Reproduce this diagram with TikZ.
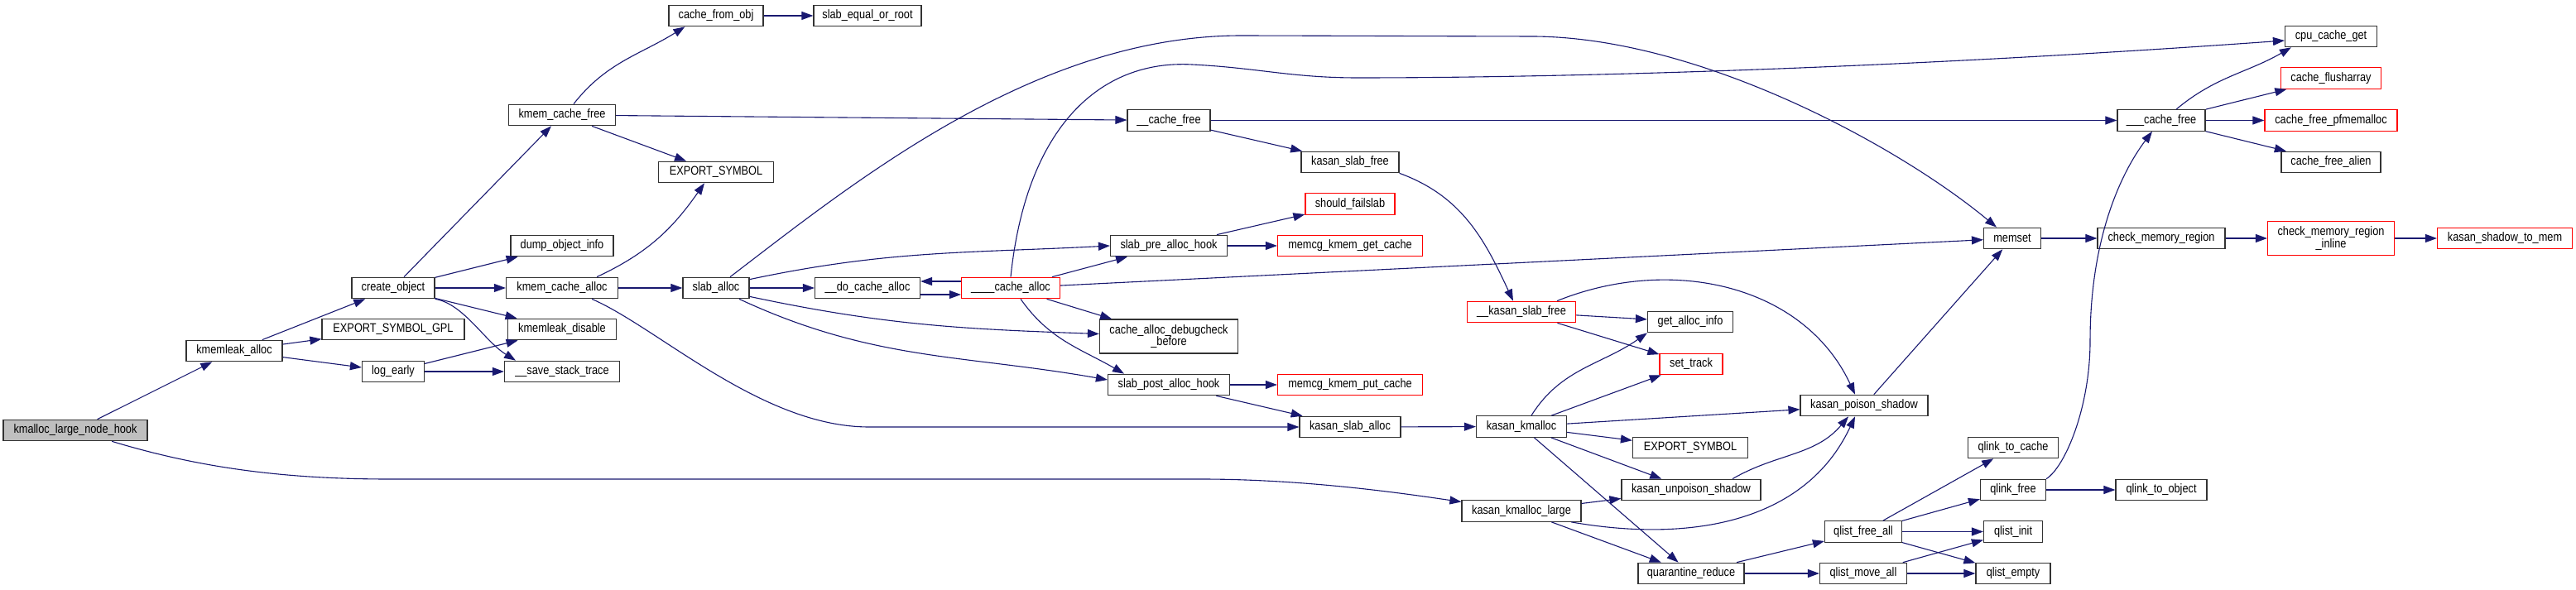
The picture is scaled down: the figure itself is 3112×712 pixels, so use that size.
\documentclass[tikz,border=0pt]{standalone}
\usepackage{fontspec}
\setmainfont{Liberation Sans}[FakeStretch=0.85]
\usetikzlibrary{arrows.meta}
\definecolor{callblue}{HTML}{191970}
\definecolor{rootgray}{HTML}{BFBFBF}

\begin{document}
\begin{tikzpicture}[x=1pt,y=1pt,
  fn/.style={draw=black!80,line width=1.2pt,fill=white,inner sep=0pt,minimum height=25.5pt,align=center},
  fnred/.style={fn,draw=red},
  fnroot/.style={fn,fill=rootgray},
  call/.style={draw=callblue,line width=1.1pt,-{Triangle[length=14pt,width=10pt]}},
  font=\fontsize{15}{14.5}\selectfont]
  \useasboundingbox (0,0) rectangle (3112,712);

  % kmemleak side
  \node[fnroot,minimum width=174pt] (hook) at (91,192) {kmalloc\_large\_node\_hook};
  \node[fn,minimum width=116pt] (kmlalloc) at (283,288) {kmemleak\_alloc};
  \node[fn,minimum width=100pt] (createobj) at (475,364) {create\_object};
  \node[fn,minimum width=172pt] (exportgpl) at (475,314) {EXPORT\_SYMBOL\_GPL};
  \node[fn,minimum width=75pt] (logearly) at (475,263) {log\_early};
  \node[fn,minimum width=114pt] (cachefromobj) at (865,693) {cache\_from\_obj};
  \node[fn,minimum width=130pt] (slabeq) at (1048,693) {slab\_equal\_or\_root};
  \node[fn,minimum width=129pt] (kcfree) at (679,573) {kmem\_cache\_free};
  \node[fn,minimum width=139pt] (exptop) at (865,504) {EXPORT\_SYMBOL};
  \node[fn,minimum width=124pt] (dumpinfo) at (679,415) {dump\_object\_info};
  \node[fn,minimum width=135pt] (kcalloc) at (679,364) {kmem\_cache\_alloc};
  \node[fn,minimum width=131pt] (kmldisable) at (679,314) {kmemleak\_disable};
  \node[fn,minimum width=139pt] (savetrace) at (679,263) {\_\_save\_stack\_trace};

  % slab
  \node[fn,minimum width=80pt] (slaballoc) at (865,364) {slab\_alloc};
  \node[fn,minimum width=127pt] (docachealloc) at (1048,364) {\_\_do\_cache\_alloc};
  \node[fnred,minimum width=119pt] (cachealloc) at (1221,364) {\_\_\_\_cache\_alloc};
  \node[fn,minimum width=100pt] (cachefree) at (1412,566.5) {\_\_cache\_free};
  \node[fn,minimum width=141pt] (prehook) at (1412,415) {slab\_pre\_alloc\_hook};
  \node[fn,minimum width=167pt,minimum height=41pt] (debugcheck) at (1412,305.5) {cache\_alloc\_debugcheck\\\_before};
  \node[fn,minimum width=147pt] (posthook) at (1412,247) {slab\_post\_alloc\_hook};
  \node[fn,minimum width=118pt] (kslabfree) at (1631,516) {kasan\_slab\_free};
  \node[fnred,minimum width=108pt] (failslab) at (1631,465.5) {should\_failslab};
  \node[fnred,minimum width=175pt] (getcache) at (1631,415) {memcg\_kmem\_get\_cache};
  \node[fnred,minimum width=175pt] (putcache) at (1631,247) {memcg\_kmem\_put\_cache};
  \node[fn,minimum width=122pt] (kslaballoc) at (1631,196) {kasan\_slab\_alloc};

  % kasan
  \node[fnred,minimum width=131pt] (kslabfreeint) at (1838,335) {\_\_kasan\_slab\_free};
  \node[fn,minimum width=109pt] (kkmalloc) at (1838,196.5) {kasan\_kmalloc};
  \node[fn,minimum width=144pt] (kkmlarge) at (1838,94.5) {kasan\_kmalloc\_large};
  \node[fn,minimum width=103pt] (getallocinfo) at (2042,323) {get\_alloc\_info};
  \node[fnred,minimum width=76pt] (settrack) at (2043,272) {set\_track};
  \node[fn,minimum width=139pt] (expbot) at (2042,171) {EXPORT\_SYMBOL};
  \node[fn,minimum width=168pt] (unpoison) at (2043,120) {kasan\_unpoison\_shadow};
  \node[fn,minimum width=128pt] (qreduce) at (2043,19) {quarantine\_reduce};
  \node[fn,minimum width=154pt] (poison) at (2252,222) {kasan\_poison\_shadow};
  \node[fn,minimum width=93pt] (qfreeall) at (2251,69.5) {qlist\_free\_all};
  \node[fn,minimum width=105pt] (qmoveall) at (2251,19) {qlist\_move\_all};
  \node[fn,minimum width=69pt] (memset) at (2431,424) {memset};
  \node[fn,minimum width=109pt] (qtocache) at (2432,171) {qlink\_to\_cache};
  \node[fn,minimum width=79pt] (qlinkfree) at (2432,120) {qlink\_free};
  \node[fn,minimum width=71pt] (qinit) at (2432,69.5) {qlist\_init};
  \node[fn,minimum width=90pt] (qempty) at (2432,19) {qlist\_empty};
  \node[fn,minimum width=110pt] (qtoobject) at (2611,120) {qlink\_to\_object};

  % right end
  \node[fn,minimum width=154pt] (checkregion) at (2611,424) {check\_memory\_region};
  \node[fn,minimum width=106pt] (cachefree3) at (2611,566.5) {\_\_\_cache\_free};
  \node[fn,minimum width=111pt] (cpucacheget) at (2816,668) {cpu\_cache\_get};
  \node[fnred,minimum width=121pt] (flusharray) at (2816,617.5) {cache\_flusharray};
  \node[fnred,minimum width=160pt] (freepfmem) at (2816,566.5) {cache\_free\_pfmemalloc};
  \node[fn,minimum width=120pt] (freealien) at (2816,516) {cache\_free\_alien};
  \node[fnred,minimum width=153pt,minimum height=41pt] (checkinline) at (2816,424) {check\_memory\_region\\\_inline};
  \node[fnred,minimum width=163pt] (shadowtomem) at (3026,424) {kasan\_shadow\_to\_mem};

  % calls from the root
  \draw[call] (hook) -- (kmlalloc);
  \draw[call] (hook) .. controls (230,150) and (330,133) .. (470,133) -- (1450,133) .. controls (1580,133) and (1700,115) .. ([yshift=11]kkmlarge.west);
  \draw[call] (kmlalloc) -- (createobj);
  \draw[call] (kmlalloc) -- (exportgpl);
  \draw[call] (kmlalloc) -- (logearly);
  \draw[call] (createobj) -- (kcfree);
  \draw[call] (createobj) -- (dumpinfo);
  \draw[call] (createobj) -- (kcalloc);
  \draw[call] (createobj) -- (kmldisable);
  \draw[call] (createobj.south east) .. controls (560,345) and (585,300) .. ([xshift=-56]savetrace.north);
  \draw[call] (logearly) -- (kmldisable);
  \draw[call] (logearly) -- (savetrace);

  % kmem_cache_free
  \draw[call] ([xshift=14]kcfree.north) to[out=52,in=212] ([xshift=20]cachefromobj.south west);
  \draw[call] (kcfree) -- (exptop);
  \draw[call] (kcfree) -- (cachefree);
  \draw[call] (cachefromobj) -- (slabeq);

  % kmem_cache_alloc and slab_alloc
  \draw[call] ([xshift=42]kcalloc.north) to[out=25,in=235] ([xshift=-14]exptop.south);
  \draw[call] (kcalloc) -- (slaballoc);
  \draw[call] ([xshift=36]kcalloc.south) .. controls (795,316) and (920,196) .. (1050,196) -- (kslaballoc.west);
  \draw[call] ([xshift=17]slaballoc.north) .. controls (1032,492) and (1250,669) .. (1500,669) -- (1850,668) .. controls (2050,668) and (2292,537) .. ([xshift=-19]memset.north);
  \draw[call] ([yshift=-3]slaballoc.north east) to[out=12,in=183] (prehook.west);
  \draw[call] (slaballoc) -- (docachealloc);
  \draw[call] ([yshift=3]slaballoc.south east) to[out=-12,in=178] ([yshift=3]debugcheck.west);
  \draw[call] ([xshift=28]slaballoc.south) to[out=-25,in=170] ([yshift=6]posthook.west);

  % ____cache_alloc
  \draw[call] ([yshift=8]cachealloc.west) -- ([yshift=8]docachealloc.east);
  \draw[call] ([yshift=-8]docachealloc.east) -- ([yshift=-8]cachealloc.west);
  \draw[call] (cachealloc.north) .. controls (1240,560) and (1330,640) .. (1440,634) .. controls (1520,630) and (1560,618) .. (1640,618) .. controls (1900,618) and (2300,630) .. ([yshift=-5]cpucacheget.west);
  \draw[call] (cachealloc) -- (prehook);
  \draw[call] (cachealloc) -- (memset);
  \draw[call] (cachealloc) -- (debugcheck);
  \draw[call] ([xshift=12]cachealloc.south) to[out=-55,in=150] ([xshift=-54]posthook.north);

  % hooks
  \draw[call] (prehook) -- (failslab);
  \draw[call] (prehook) -- (getcache);
  \draw[call] (posthook) -- (putcache);
  \draw[call] (posthook) -- (kslaballoc);
  \draw[call] (kslaballoc) -- (kkmalloc);

  % free path
  \draw[call] (cachefree) -- (cachefree3);
  \draw[call] (cachefree) -- (kslabfree);
  \draw[call] (kslabfree.south east) to[out=-20,in=115] ([xshift=-10]kslabfreeint.north);
  \draw[call] (kslabfreeint) -- (getallocinfo);
  \draw[call] (kslabfreeint) -- (settrack);
  \draw[call] ([xshift=43]kslabfreeint.north) to[out=22,in=115] ([xshift=-11]poison.north);

  % kasan
  \draw[call] ([xshift=12]kkmalloc.north) to[out=58,in=215] (getallocinfo.south west);
  \draw[call] (kkmalloc) -- (settrack);
  \draw[call] (kkmalloc) -- (poison);
  \draw[call] (kkmalloc) -- (expbot);
  \draw[call] (kkmalloc) -- (unpoison);
  \draw[call] (kkmalloc) -- (qreduce);
  \draw[call] (kkmlarge) -- (unpoison);
  \draw[call] ([xshift=60]kkmlarge.south) to[out=-10,in=245] ([xshift=-11]poison.south);
  \draw[call] (kkmlarge) -- (qreduce);
  \draw[call] ([xshift=50]unpoison.north) to[out=30,in=230] ([xshift=-19]poison.south);
  \draw[call] (poison) -- (memset);

  % memset chain
  \draw[call] (memset) -- (checkregion);
  \draw[call] (checkregion) -- (checkinline);
  \draw[call] (checkinline) -- (shadowtomem);

  % quarantine
  \draw[call] (qreduce) -- (qfreeall);
  \draw[call] (qreduce) -- (qmoveall);
  \draw[call] (qfreeall) -- (qtocache);
  \draw[call] (qfreeall) -- (qlinkfree);
  \draw[call] (qfreeall) -- (qinit);
  \draw[call] (qfreeall) -- (qempty);
  \draw[call] (qmoveall) -- (qinit);
  \draw[call] (qmoveall) -- (qempty);
  \draw[call] (qlinkfree.north east) .. controls (2495,148) and (2525,220) .. (2525,300) .. controls (2525,420) and (2560,500) .. ([xshift=-11]cachefree3.south);
  \draw[call] (qlinkfree) -- (qtoobject);

  % ___cache_free
  \draw[call] ([xshift=18]cachefree3.north) to[out=40,in=210] ([xshift=8]cpucacheget.south west);
  \draw[call] (cachefree3) -- (flusharray);
  \draw[call] (cachefree3) -- (freepfmem);
  \draw[call] (cachefree3) -- (freealien);
\end{tikzpicture}
\end{document}
